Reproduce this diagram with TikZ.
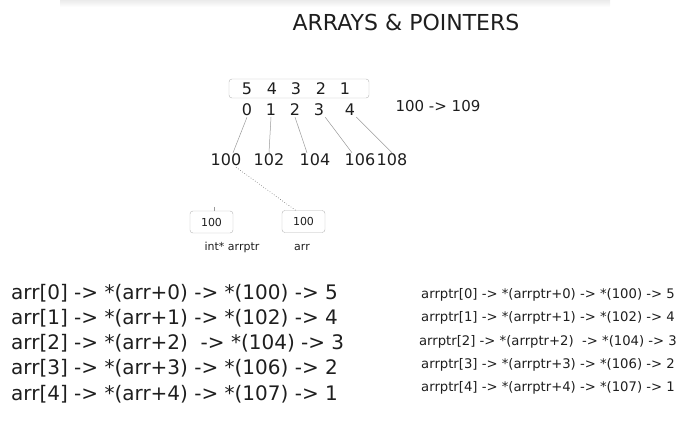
\documentclass[tikz,border=0pt]{standalone}
\usepackage{fontspec}
\setmainfont{DejaVu Sans}
\usetikzlibrary{positioning}
\definecolor{ink}{HTML}{1E1E1E}
\definecolor{edge}{HTML}{9A9A9A}
\definecolor{boxgray}{HTML}{B4B4B4}

\begin{document}
\begin{tikzpicture}[x=1pt,y=-1pt,
  txt/.style={text=ink,inner sep=1pt},
  cell/.style={txt,font=\fontsize{16}{18}\selectfont},
  addr/.style={txt,font=\fontsize{16}{18}\selectfont},
  link/.style={draw=edge,line width=0.5pt},
  membox/.style={draw=boxgray,rounded corners=3pt,minimum width=43pt,minimum height=22pt,text=ink,font=\fontsize{11}{13}\selectfont},
  big/.style={txt,anchor=west,font=\fontsize{20}{24}\selectfont},
  small/.style={txt,font=\fontsize{13.2}{16}\selectfont}]

\useasboundingbox (0,0) rectangle (690,434);
\shade[top color=black!8,bottom color=white] (60,0) rectangle (610,7);

\node[txt,font=\fontsize{22}{26}\selectfont] (title) at (406,22) {ARRAYS \& POINTERS};

% the array and its indices
\node[draw=boxgray,rounded corners=3pt,minimum width=140pt,minimum height=19pt] (array) at (299,88.5) {};
\node[cell] (v0) at (247,89) {5};
\node[cell] (v1) at (272,89) {4};
\node[cell] (v2) at (296,89) {3};
\node[cell] (v3) at (321,89) {2};
\node[cell] (v4) at (345,89) {1};

\node[cell] (i0) at (247,110) {0};
\node[cell] (i1) at (271,110) {1};
\node[cell] (i2) at (295,110) {2};
\node[cell] (i3) at (319,110) {3};
\node[cell] (i4) at (350,110) {4};

\node[txt,font=\fontsize{15}{18}\selectfont] (range) at (438,106) {100 -> 109};

% addresses
\node[addr] (a0) at (226,160) {100};
\node[addr] (a1) at (269,160) {102};
\node[addr] (a2) at (315,160) {104};
\node[addr] (a3) at (360,160) {106};
\node[addr] (a4) at (392,160) {108};

\draw[link] (i0.south) -- ([xshift=7pt]a0.north);
\draw[link] (i1.south) -- (a1.north);
\draw[link] (i2.south) -- ([xshift=-8pt]a2.north);
\draw[link] (i3.south east) -- ([xshift=-8pt]a3.north);
\draw[link] (i4.south east) -- (a4.north);

% pointer and array name
\node[membox] (ptr) at (211.5,222) {100};
\node[membox] (arr) at (303.5,221.5) {100};
\node[txt,font=\fontsize{11}{13}\selectfont] (ptrname) at (232,247) {int* arrptr};
\node[txt,font=\fontsize{11}{13}\selectfont] (arrname) at (302,247) {arr};

\draw[black!60,dotted,line width=0.6pt] ([xshift=10pt]a0.south) -- ([xshift=-8pt]arr.north);
\draw[link] ([xshift=3pt,yshift=4pt]ptr.north) -- ([xshift=3pt]ptr.north);

% arr lines
\node[big] (l0) at (10,293) {arr[0] -> *(arr+0) -> *(100) -> 5};
\node[big] (l1) at (10,318) {arr[1] -> *(arr+1) -> *(102) -> 4};
\node[big] (l2) at (10,343) {arr[2] -> *(arr+2)\ \ -> *(104) -> 3};
\node[big] (l3) at (10,368) {arr[3] -> *(arr+3) -> *(106) -> 2};
\node[big] (l4) at (10,394) {arr[4] -> *(arr+4) -> *(107) -> 1};

% arrptr lines
\node[small] (r0) at (548,295) {arrptr[0] -> *(arrptr+0) -> *(100) -> 5};
\node[small] (r1) at (548,318) {arrptr[1] -> *(arrptr+1) -> *(102) -> 4};
\node[small] (r2) at (548,342) {arrptr[2] -> *(arrptr+2)\ \ -> *(104) -> 3};
\node[small] (r3) at (548,365) {arrptr[3] -> *(arrptr+3) -> *(106) -> 2};
\node[small] (r4) at (548,388) {arrptr[4] -> *(arrptr+4) -> *(107) -> 1};
\end{tikzpicture}
\end{document}
